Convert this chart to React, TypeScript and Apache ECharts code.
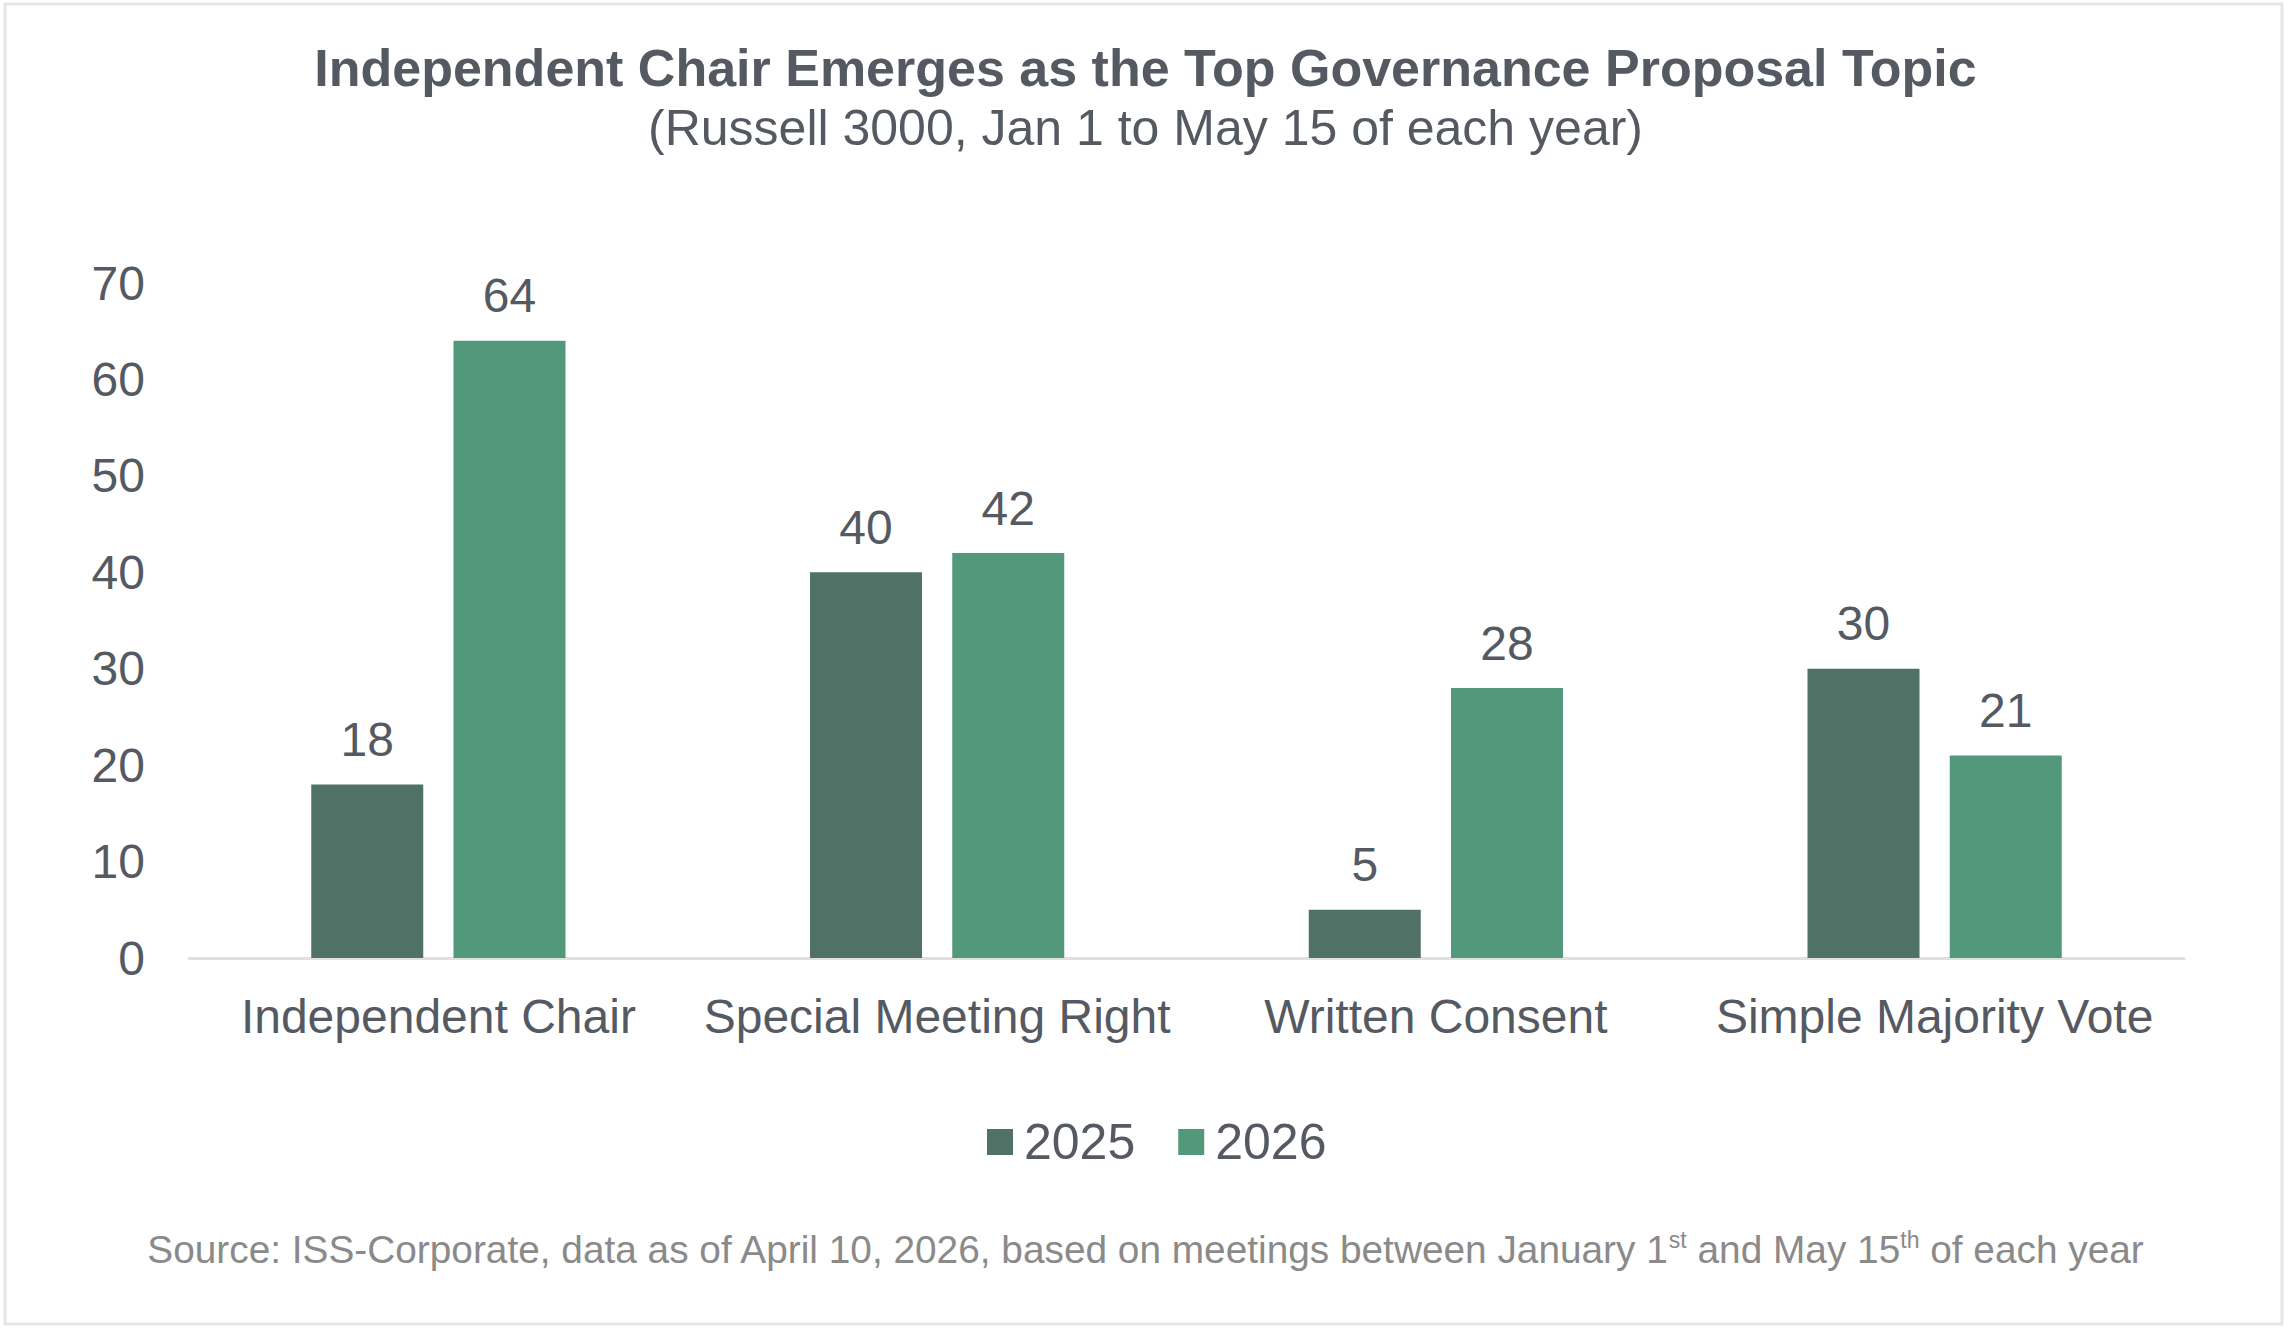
import React, { useEffect, useRef } from "react";
import * as echarts from "echarts";

const categories = ["Independent Chair", "Special Meeting Right", "Written Consent", "Simple Majority Vote"];
const seriesNames = ["2025", "2026"];
const values2025 = [18, 40, 5, 30];
const values2026 = [64, 42, 28, 21];
const yTicks = { min: 0, max: 70, interval: 10 };

const titleText = "Independent Chair Emerges as the Top Governance Proposal Topic";
const subtitleText = "(Russell 3000, Jan 1 to May 15 of each year)";
const sourceText =
  "Source: ISS-Corporate, data as of April 10, 2026, based on meetings between January 1{sup|st} and May 15{sup|th} of each year";

const FONT = "'Liberation Sans', Arial, sans-serif";
const TEXT = "#555a62";
const DARK = "#4f7166";
const LIGHT = "#52987a";

export default function App() {
  const ref = useRef<HTMLDivElement>(null);
  useEffect(() => {
    if (!ref.current) return;
    const chart = echarts.init(ref.current, undefined, { renderer: "svg" });
    const labelStyle = {
      show: true,
      position: "top" as const,
      distance: 21,
      color: TEXT,
      fontSize: 48,
      fontFamily: FONT,
    };
    chart.setOption({
      animation: false,
      backgroundColor: "#ffffff",
      textStyle: { fontFamily: FONT },
      title: {
        text: titleText,
        subtext: subtitleText,
        left: "center",
        top: 37,
        itemGap: 9,
        textStyle: { fontSize: 52, fontWeight: "bold", color: TEXT, fontFamily: FONT, lineHeight: 52 },
        subtextStyle: { fontSize: 50, color: TEXT, fontFamily: FONT, lineHeight: 50 },
      },
      legend: {
        data: seriesNames,
        left: 982,
        top: 1112,
        itemWidth: 26,
        itemHeight: 26,
        itemGap: 43,
        icon: "rect",
        textStyle: { fontSize: 50, color: TEXT, fontFamily: FONT, padding: [0, 0, 0, 6] },
      },
      grid: { left: 189, right: 107, top: 283, bottom: 375, containLabel: false },
      xAxis: {
        type: "category",
        data: categories,
        axisLine: { show: true, lineStyle: { color: "#e0e0e0", width: 3 } },
        axisTick: { show: false },
        axisLabel: { color: TEXT, fontSize: 48, fontFamily: FONT, margin: 34, interval: 0 },
      },
      yAxis: {
        type: "value",
        min: yTicks.min,
        max: yTicks.max,
        interval: yTicks.interval,
        axisLine: { show: false },
        axisTick: { show: false },
        splitLine: { show: false },
        axisLabel: { color: TEXT, fontSize: 48, fontFamily: FONT, margin: 44 },
      },
      series: [
        {
          name: seriesNames[0],
          type: "bar",
          data: values2025,
          barWidth: 112,
          barGap: "27%",
          itemStyle: { color: DARK },
          label: labelStyle,
        },
        {
          name: seriesNames[1],
          type: "bar",
          data: values2026,
          barWidth: 112,
          barGap: "27%",
          itemStyle: { color: LIGHT },
          label: labelStyle,
        },
      ],
      graphic: [
        {
          type: "rect",
          silent: true,
          shape: { x: 5, y: 4, width: 2277, height: 1320 },
          style: { fill: "none", stroke: "#e6e6e6", lineWidth: 3 },
        },
        {
          type: "text",
          x: 1145,
          y: 1249,
          style: {
            text: sourceText,
            fill: "#8a8a8a",
            fontSize: 38.8,
            fontFamily: FONT,
            lineHeight: 41,
            align: "center",
            verticalAlign: "middle",
            rich: {
              sup: { fontSize: 23, fill: "#8a8a8a", fontFamily: FONT, verticalAlign: "top", lineHeight: 23 },
            },
          },
        },
      ],
    });
    return () => chart.dispose();
  }, []);
  return (
    <div
      ref={ref}
      style={{ position: "fixed", left: 0, top: 0, width: 2291, height: 1333, background: "#fff" }}
    />
  );
}
